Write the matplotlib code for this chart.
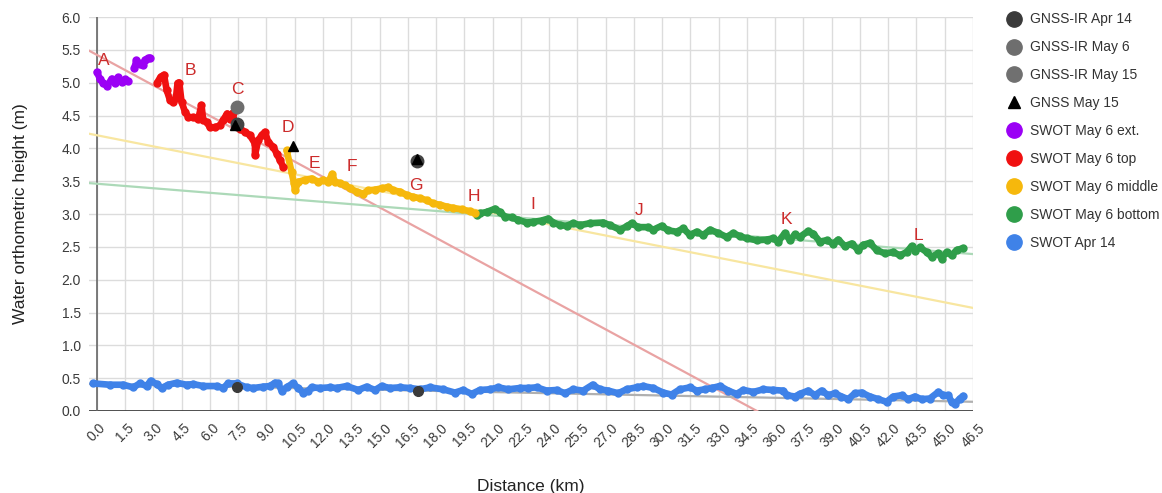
import numpy as np
import matplotlib
matplotlib.use("Agg")
import matplotlib.pyplot as plt
from matplotlib.lines import Line2D

plt.rcParams['font.family'] = ['Liberation Sans', 'DejaVu Sans']

# --- data ---
# SWOT May 6 ext. (two groups, nan = gap)
ext_x = [0.0, 0.16, 0.33, 0.55, 0.78, 0.96, 1.13, 1.31, 1.49, 1.63, np.nan,
         1.98, 2.1, 2.28, 2.42, 2.55, 2.72, 2.81]
ext_y = [5.16, 5.06, 4.99, 4.95, 5.06, 5.0, 5.08, 5.01, 5.05, 5.03, np.nan,
         5.22, 5.34, 5.29, 5.27, 5.35, 5.37, 5.38]

top_x = [3.2, 3.38, 3.56, 3.70, 3.87, 4.05, 4.19, 4.28, 4.37, 4.49, 4.67, 4.85, 5.11,
         5.38, 5.55, 5.64, 5.82, 6.0, 6.26, 6.53, 6.70, 6.91, 7.06, 7.2, 7.33, 7.59,
         7.86, 8.12, 8.39, 8.39, 8.56, 8.74, 8.92, 9.09, 9.36, 9.54, 9.71, 9.89]
top_y = [5.0, 5.09, 5.12, 4.89, 4.74, 4.71, 4.76, 4.99, 5.0, 4.71, 4.56, 4.48, 4.47,
         4.45, 4.66, 4.43, 4.40, 4.32, 4.32, 4.35, 4.43, 4.53, 4.45, 4.54, 4.38, 4.30,
         4.25, 4.20, 4.07, 3.90, 4.12, 4.20, 4.25, 4.10, 4.02, 3.92, 3.82, 3.72]

mid_x = [10.07, 10.33, 10.46, 10.51, 10.69, 11.04, 11.39, 11.75, 12.01, 12.28, 12.49,
         12.63, 12.9, 13.16, 13.43, 13.78, 14.13, 14.4, 14.76, 15.11, 15.46, 15.73,
         16.08, 16.44, 16.79, 17.14, 17.5, 17.85, 18.21, 18.56, 18.91, 19.36, 19.8, 20.06]
mid_y = [3.97, 3.64, 3.47, 3.36, 3.49, 3.52, 3.54, 3.49, 3.52, 3.49, 3.61,
         3.49, 3.47, 3.44, 3.39, 3.34, 3.31, 3.36, 3.37, 3.39, 3.41, 3.36,
         3.34, 3.29, 3.26, 3.24, 3.21, 3.16, 3.14, 3.11, 3.09, 3.07, 3.04, 3.01]

bot_x = [20.15, 20.33, 20.68, 21.13, 21.39, 21.66, 22.01, 22.36, 22.81, 23.16, 23.6,
         23.96, 24.22, 24.58, 24.93, 25.28, 25.64, 26.17, 26.87, 27.23, 27.76, 28.11,
         28.38, 28.73, 29.26, 29.53, 29.97, 30.32, 30.77, 31.12, 31.48, 31.83, 32.18,
         32.54, 32.98, 33.42, 33.78, 34.13, 34.48, 35.01, 35.55, 35.9, 36.16, 36.52,
         36.78, 37.05, 37.31, 37.75, 38.02, 38.37, 38.73, 39.08, 39.35, 39.7, 40.06,
         40.41, 40.67, 41.03, 41.38, 41.83, 42.27, 42.62, 42.98, 43.24, 43.42, 43.68,
         44.04, 44.3, 44.66, 44.83, 45.1, 45.36, 45.63, 45.98]
bot_y = [2.98, 3.01, 3.03, 3.08, 3.03, 2.96, 2.95, 2.91, 2.87, 2.88, 2.90,
         2.93, 2.87, 2.83, 2.82, 2.86, 2.83, 2.86, 2.87, 2.83, 2.76, 2.81,
         2.86, 2.80, 2.80, 2.76, 2.82, 2.75, 2.73, 2.78, 2.68, 2.73, 2.68,
         2.76, 2.71, 2.65, 2.71, 2.66, 2.63, 2.60, 2.61, 2.63, 2.58, 2.71,
         2.60, 2.69, 2.65, 2.74, 2.70, 2.58, 2.60, 2.55, 2.61, 2.51, 2.55,
         2.45, 2.53, 2.56, 2.45, 2.40, 2.42, 2.37, 2.42, 2.51, 2.44, 2.49,
         2.42, 2.35, 2.40, 2.32, 2.42, 2.37, 2.45, 2.48]

apr_x = [-0.2, 0.69, 1.40, 1.93, 2.28, 2.64, 2.85, 3.17, 3.43, 3.79, 4.23, 4.76, 5.11,
         5.64, 6.35, 6.70, 6.97, 7.41, 7.95, 8.30, 8.83, 9.18, 9.45, 9.62, 9.80, 10.07,
         10.39, 10.69, 10.95, 11.22, 11.39, 11.84, 12.37, 12.72, 13.25, 13.87, 14.31,
         14.76, 15.11, 15.55, 16.08, 16.61, 17.14, 17.68, 18.38, 19.0, 19.44, 19.89,
         20.33, 20.86, 21.30, 21.83, 22.45, 22.89, 23.34, 23.87, 24.40, 24.84, 25.28,
         25.81, 26.31, 26.70, 27.14, 27.67, 28.11, 28.64, 28.99, 29.53, 30.06, 30.50,
         30.94, 31.48, 31.83, 32.27, 32.63, 33.07, 33.51, 33.95, 34.31, 34.84, 35.37,
         35.90, 36.43, 36.61, 37.05, 37.31, 37.75, 38.11, 38.46, 38.82, 39.17, 39.52,
         39.88, 40.23, 40.59, 41.03, 41.47, 41.91, 42.27, 42.71, 43.06, 43.42, 43.77,
         44.21, 44.66, 44.92, 45.19, 45.36, 45.54, 45.80, 45.98]
apr_y = [0.42, 0.40, 0.40, 0.36, 0.42, 0.38, 0.46, 0.41, 0.35, 0.40, 0.43, 0.40, 0.41,
         0.38, 0.38, 0.35, 0.42, 0.42, 0.36, 0.35, 0.37, 0.38, 0.43, 0.42, 0.31, 0.36,
         0.42, 0.35, 0.28, 0.31, 0.36, 0.35, 0.36, 0.35, 0.38, 0.32, 0.37,
         0.32, 0.38, 0.35, 0.36, 0.35, 0.33, 0.36, 0.33, 0.28, 0.32, 0.26,
         0.32, 0.33, 0.36, 0.33, 0.35, 0.35, 0.36, 0.31, 0.32, 0.27, 0.33,
         0.31, 0.40, 0.33, 0.31, 0.27, 0.33, 0.36, 0.38, 0.35, 0.28, 0.25,
         0.33, 0.36, 0.31, 0.33, 0.35, 0.38, 0.31, 0.26, 0.32, 0.29, 0.33,
         0.32, 0.31, 0.24, 0.22, 0.26, 0.31, 0.24, 0.31, 0.24, 0.27, 0.22,
         0.18, 0.27, 0.28, 0.22, 0.18, 0.14, 0.22, 0.24, 0.18, 0.22, 0.18,
         0.19, 0.29, 0.24, 0.24, 0.14, 0.11, 0.19, 0.23]

gnssir_apr14_x = [7.45, 17.05]
gnssir_apr14_y = [0.37, 0.31]
gnssir_may6_x = [7.45]
gnssir_may6_y = [4.63]
gnssir_may15_x = [7.45, 16.97]
gnssir_may15_y = [4.37, 3.80]
gnss_may15_x = [7.35, 10.4, 16.97]
gnss_may15_y = [4.35, 4.03, 3.84]

# linear trendlines (intercept at 0 km, slope per km)
trend_top = (5.423, -0.1548)
trend_mid = (4.199, -0.05654)
trend_bot = (3.461, -0.02304)
trend_apr = (0.41, -0.0058)

site_labels = ['A', 'B', 'C', 'D', 'E', 'F', 'G', 'H', 'I', 'J', 'K', 'L']
site_x = [0.37, 4.94, 7.43, 10.14, 11.52, 13.53, 16.93, 20.01, 23.14, 28.77, 36.62, 43.58]
site_y = [5.34, 5.19, 4.89, 4.32, 3.77, 3.73, 3.44, 3.26, 3.14, 3.06, 2.92, 2.68]

xticks = np.arange(0, 46.51, 1.5)
yticks = np.arange(0, 6.01, 0.5)

# colours
c_ext = '#9b00f5'
c_top = '#f01010'
c_mid = '#f6b80c'
c_bot = '#2f9e4a'
c_apr = '#3f82e8'

fig = plt.figure(figsize=(11.62, 4.93), dpi=100)
ax = fig.add_axes([89 / 1162, 1 - 411 / 493, (973 - 89) / 1162, (411 - 17) / 493])

xmin, xmax = -0.42, 46.5
ax.set_xlim(xmin, xmax)
ax.set_ylim(0, 6.0)

ax.set_xticks(xticks)
ax.set_xticklabels([f"{t:.1f}" for t in xticks], rotation=45, ha='center', va='top')
ax.set_yticks(yticks)
ax.set_yticklabels([f"{t:.1f}" for t in yticks])
ax.tick_params(length=0, labelsize=10, colors='#3a3a3a', pad=6)
ax.tick_params(axis='x', pad=7)
ax.grid(True, color='#dcdcdc', linewidth=1)
ax.set_axisbelow(True)
for s in ax.spines.values():
    s.set_visible(False)
ax.axhline(0, color='#333333', lw=1.2, zorder=1)
ax.axvline(0, color='#666666', lw=1.2, zorder=1)

# trendlines
tx = np.array([xmin, xmax])
for (b, m), col in [(trend_top, '#e9a3a3'), (trend_mid, '#f8e6a0'),
                    (trend_bot, '#acd9b8'), (trend_apr, '#b0b0b0')]:
    ax.plot(tx, b + m * tx, color=col, lw=1.6, zorder=2)

# series
for xs, ys, col in [(apr_x, apr_y, c_apr), (bot_x, bot_y, c_bot), (mid_x, mid_y, c_mid),
                    (top_x, top_y, c_top), (ext_x, ext_y, c_ext)]:
    ax.plot(xs, ys, color=col, lw=4.8, marker='o', ms=5, mec=col, zorder=3,
            solid_capstyle='round', solid_joinstyle='round')

ax.plot(gnssir_apr14_x, gnssir_apr14_y, 'o', color='#3a3a3a', ms=7, zorder=4)
ax.plot(gnssir_may6_x, gnssir_may6_y, 'o', color='#6e6e6e', ms=9, zorder=4)
ax.plot(gnssir_may15_x, gnssir_may15_y, 'o', color='#444444', ms=9, zorder=4)
ax.plot(gnss_may15_x, gnss_may15_y, '^', color='black', ms=7, zorder=5)

for lab, x, y in zip(site_labels, site_x, site_y):
    ax.text(x, y, lab, color='#cc2b2b', fontsize=12.5, ha='center', va='center', zorder=6)

ax.set_xlabel('Distance (km)', fontsize=12.5, color='#222222', labelpad=21)
ax.set_ylabel('Water orthometric height (m)', fontsize=12.5, color='#222222', labelpad=24)

handles = [
    Line2D([], [], ls='', marker='o', ms=11, color='#3a3a3a'),
    Line2D([], [], ls='', marker='o', ms=11, color='#6e6e6e'),
    Line2D([], [], ls='', marker='o', ms=11, color='#707070'),
    Line2D([], [], ls='', marker='^', ms=8, color='black'),
    Line2D([], [], ls='', marker='o', ms=11, color=c_ext),
    Line2D([], [], ls='', marker='o', ms=11, color=c_top),
    Line2D([], [], ls='', marker='o', ms=11, color=c_mid),
    Line2D([], [], ls='', marker='o', ms=11, color=c_bot),
    Line2D([], [], ls='', marker='o', ms=11, color=c_apr),
]
names = ['GNSS-IR Apr 14', 'GNSS-IR May 6', 'GNSS-IR May 15', 'GNSS May 15',
         'SWOT May 6 ext.', 'SWOT May 6 top', 'SWOT May 6 middle',
         'SWOT May 6 bottom', 'SWOT Apr 14']
fig.legend(handles, names, loc='upper left', bbox_to_anchor=(995 / 1162, 1 - 0 / 493),
           frameon=False, fontsize=10, labelspacing=1.0, handlelength=1.0,
           handletextpad=0.6, labelcolor='#333333')

fig.savefig('out.png', dpi=100)
